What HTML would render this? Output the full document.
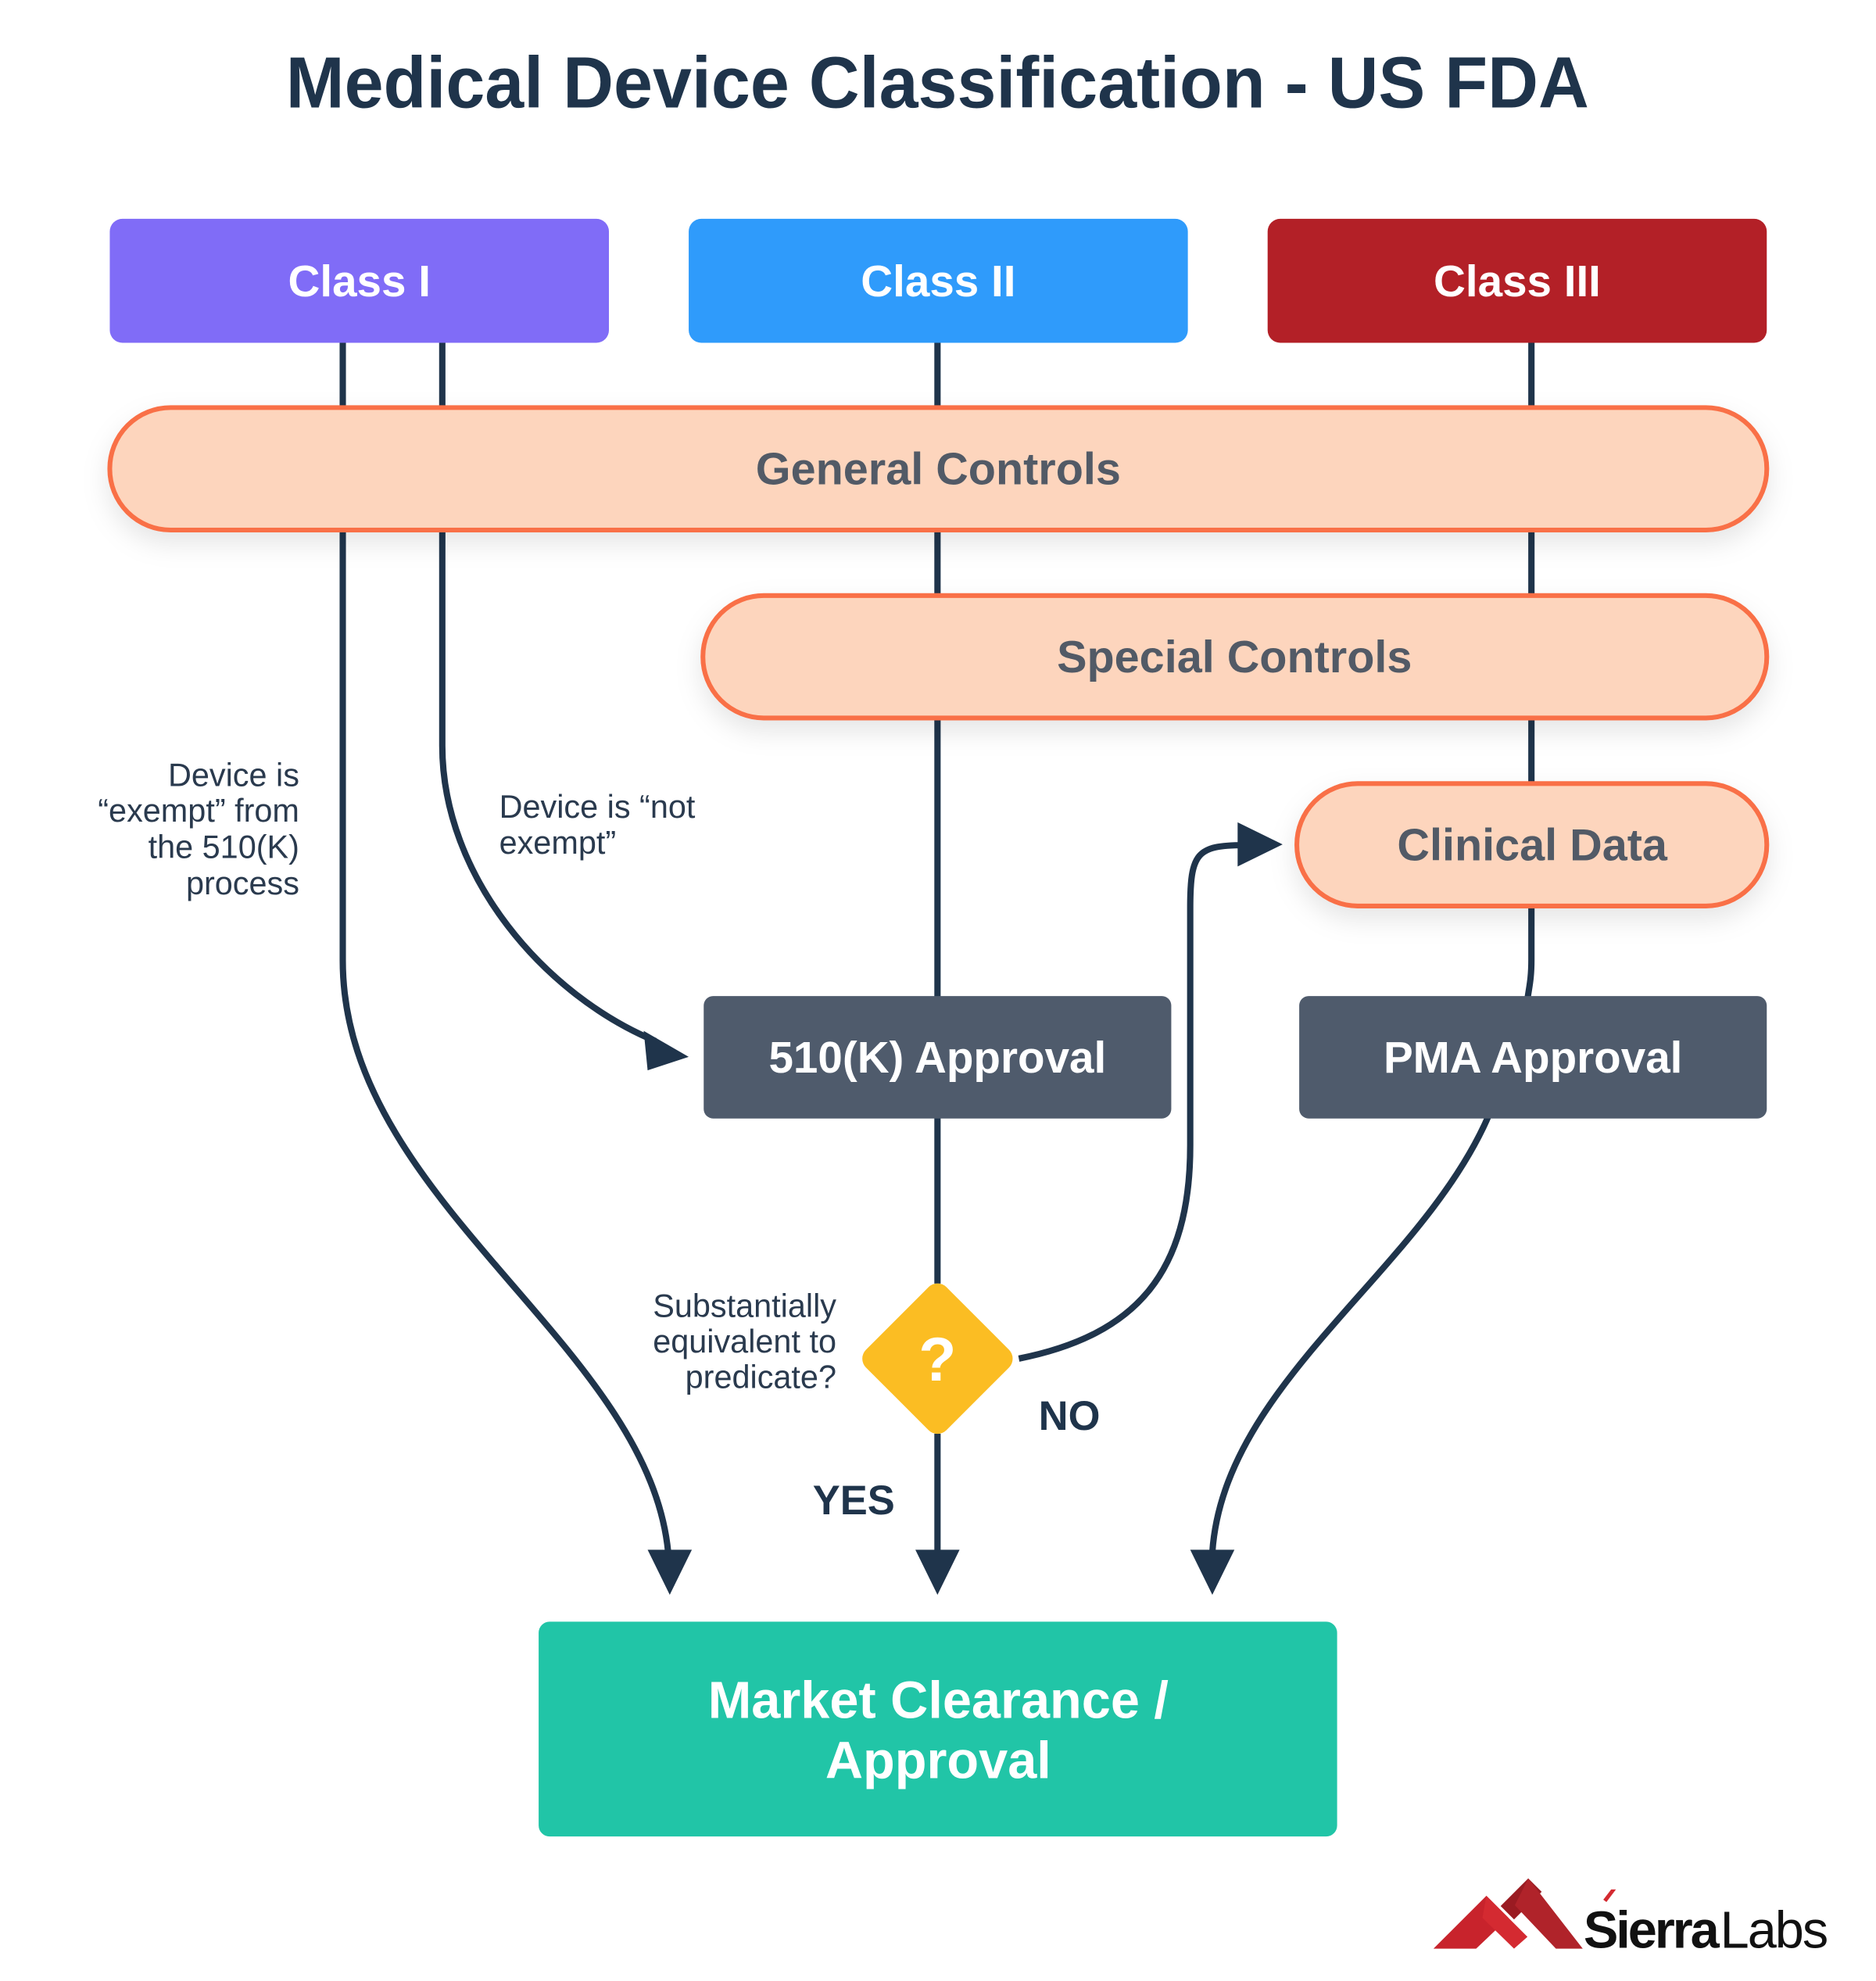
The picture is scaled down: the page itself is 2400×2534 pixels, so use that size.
<!DOCTYPE html>
<html><head><meta charset="utf-8"><style>html,body{margin:0;padding:0;background:#fff}svg{display:block}</style></head>
<body>
<svg width="2400" height="2534" viewBox="0 0 2400 2534" xmlns="http://www.w3.org/2000/svg" font-family="Liberation Sans, sans-serif">
<defs>
<filter id="sh" x="-10%" y="-30%" width="120%" height="180%"><feDropShadow dx="0" dy="14" stdDeviation="16" flood-color="#000" flood-opacity="0.10"/></filter>
</defs>
<g transform="scale(1.0104)">
<text x="1187" y="136" text-anchor="middle" font-size="92" font-weight="bold" fill="#1f344b" textLength="1650" lengthAdjust="spacingAndGlyphs">Medical Device Classification - US FDA</text>

<g stroke="#1f344b" stroke-width="8" fill="none">
<line x1="434" y1="430" x2="434" y2="520"/>
<line x1="560" y1="430" x2="560" y2="520"/>
<line x1="1187" y1="430" x2="1187" y2="520"/>
<line x1="1939" y1="430" x2="1939" y2="520"/>
<line x1="1187" y1="670" x2="1187" y2="760"/>
<line x1="1939" y1="670" x2="1939" y2="1000"/>
<line x1="1187" y1="905" x2="1187" y2="1265"/>
<path d="M1939 1145 L1939 1215 C1939 1240 1936 1250 1934 1265"/>
<line x1="1187" y1="1412" x2="1187" y2="1625"/>
<line x1="1187" y1="1815" x2="1187" y2="1965"/>
<path d="M434 668 L434 1216 C434 1520 820 1700 846 1965"/>
<path d="M560 668 L560 944 C560 1110 690 1260 830 1318"/>
<path d="M1290 1720 C1440 1690 1507 1610 1507 1450 L1507 1150 C1507 1080 1515 1070 1575 1070"/>
<path d="M1885 1412 C1800 1610 1550 1750 1535 1965"/>
</g>
<g fill="#1f344b">
<polygon points="820,1962 876,1962 848,2019"/>
<polygon points="1159,1962 1215,1962 1187,2019"/>
<polygon points="1507,1962 1563,1962 1535,2019"/>
<polygon points="872,1338 815,1305 820,1355"/>
<polygon points="1624,1069 1567,1041 1567,1097"/>
</g>

<rect x="139" y="277" width="632" height="157" rx="16" fill="#806cf7"/>
<rect x="872" y="277" width="632" height="157" rx="16" fill="#2f9bfb"/>
<rect x="1605" y="277" width="632" height="157" rx="16" fill="#b32027"/>
<g fill="#fff" font-size="56" text-anchor="middle" font-weight="bold">
<text x="455" y="375">Class I</text>
<text x="1188" y="375">Class II</text>
<text x="1921" y="375">Class III</text>
</g>

<g fill="#fdd5bd" stroke="#f97046" stroke-width="6" filter="url(#sh)">
<rect x="139" y="516" width="2098" height="155" rx="77"/>
<rect x="890" y="754" width="1347" height="155" rx="77"/>
<rect x="1642" y="992" width="595" height="155" rx="77"/>
</g>
<g fill="#525a66" font-size="57" text-anchor="middle" font-weight="bold">
<text x="1188" y="613">General Controls</text>
<text x="1563" y="851">Special Controls</text>
<text x="1940" y="1089">Clinical Data</text>
</g>

<rect x="891" y="1261" width="592" height="155" rx="12" fill="#4f5b6c"/>
<rect x="1645" y="1261" width="592" height="155" rx="12" fill="#4f5b6c"/>
<g fill="#fff" font-size="56" text-anchor="middle" font-weight="bold">
<text x="1187" y="1358">510(K) Approval</text>
<text x="1941" y="1358">PMA Approval</text>
</g>

<rect x="1115" y="1648" width="144" height="144" rx="16" fill="#fbbd23" transform="rotate(45 1187 1720)"/>
<text x="1187" y="1748" text-anchor="middle" font-size="78" font-weight="bold" fill="#fff">?</text>

<rect x="682" y="2053" width="1011" height="272" rx="14" fill="#21c5a7"/>
<g fill="#fff" font-size="66" text-anchor="middle" font-weight="bold">
<text x="1188" y="2175">Market Clearance /</text>
<text x="1188" y="2251">Approval</text>
</g>

<g fill="#2a3a4e" font-size="41">
<g text-anchor="end">
<text x="379" y="995">Device is</text>
<text x="379" y="1040">“exempt” from</text>
<text x="379" y="1086">the 510(K)</text>
<text x="379" y="1132">process</text>
<text x="1059" y="1667">Substantially</text>
<text x="1059" y="1712">equivalent to</text>
<text x="1059" y="1757">predicate?</text>
</g>
<text x="632" y="1035">Device is “not</text>
<text x="632" y="1081">exempt”</text>
</g>
<g fill="#1f344b" font-size="52" font-weight="bold">
<text x="1315" y="1810">NO</text>
<text x="1029" y="1917">YES</text>
</g>

<g>
<polygon points="1815,2467 1882,2400 1910,2428 1869,2467" fill="#c8232c"/>
<polygon points="1882,2400 1934,2452 1917,2467 1877,2428" fill="#d42a31"/>
<polygon points="1900,2413 1935,2378 1952,2395 1917,2430" fill="#9a1b22"/>
<polygon points="1935,2378 2004,2467 1970,2467 1918,2412" fill="#b0232a"/>
<polygon points="2030,2405 2040,2392 2046,2392 2034,2408" fill="#d42a31"/>
<text x="2005" y="2466" font-size="66" font-weight="bold" fill="#111" letter-spacing="-3">Sierra</text>
<text x="2178" y="2466" font-size="66" fill="#111" letter-spacing="-2">Labs</text>
</g>
</g>
</svg>
</body></html>
